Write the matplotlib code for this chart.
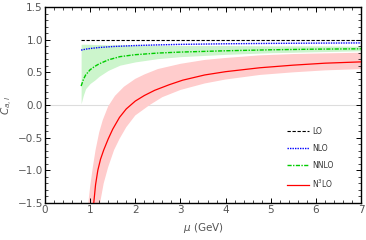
import numpy as np
import matplotlib
matplotlib.use('Agg')
import matplotlib.pyplot as plt
from matplotlib.ticker import MultipleLocator

# values
mu_lo = [0.8, 7.0]
c_lo = [1.0, 1.0]

mu_nlo = [0.8, 0.9, 1.0, 1.2, 1.5, 2.0, 2.5, 3.0, 4.0, 5.0, 6.0, 7.0]
c_nlo = [0.84, 0.855, 0.865, 0.88, 0.895, 0.91, 0.92, 0.928, 0.937, 0.943, 0.947, 0.95]

mu_nnlo = [0.8, 0.85, 0.9, 1.0, 1.1, 1.2, 1.4, 1.66, 2.0, 2.5, 3.0, 4.0, 5.0, 6.0, 7.0]
c_nnlo = [0.29, 0.39, 0.46, 0.54, 0.59, 0.63, 0.69, 0.74, 0.77, 0.795, 0.81, 0.83, 0.845, 0.855, 0.86]
c_nnlo_hi = [0.93, 0.93, 0.93, 0.93, 0.925, 0.925, 0.92, 0.92, 0.915, 0.915, 0.91, 0.91, 0.905, 0.905, 0.90]
c_nnlo_lo = [0.02, 0.15, 0.25, 0.33, 0.38, 0.44, 0.53, 0.61, 0.66, 0.71, 0.74, 0.775, 0.80, 0.815, 0.83]

mu_n3lo = [1.0, 1.08, 1.12, 1.17, 1.23, 1.3, 1.4, 1.5, 1.65, 1.8, 2.0, 2.2, 2.43, 2.75,
           3.05, 3.54, 4.0, 4.76, 5.5, 6.2, 7.0]
c_n3lo = [-2.4, -1.5, -1.22, -1.0, -0.83, -0.69, -0.52, -0.37, -0.19, -0.06, 0.06, 0.145,
          0.225, 0.31, 0.38, 0.46, 0.51, 0.57, 0.61, 0.64, 0.66]

mu_n3lo_hi = [0.9, 0.96, 1.0, 1.06, 1.12, 1.2, 1.28, 1.4, 1.55, 1.75, 2.0, 2.21, 2.5, 3.0,
              3.54, 4.0, 4.76, 5.5, 6.2, 7.0]
c_n3lo_hi = [-2.0, -1.5, -1.25, -0.95, -0.69, -0.42, -0.23, -0.02, 0.14, 0.28, 0.40, 0.47,
             0.55, 0.63, 0.69, 0.72, 0.76, 0.78, 0.79, 0.80]

mu_n3lo_lo = [1.15, 1.22, 1.3, 1.4, 1.53, 1.65, 1.8, 2.0, 2.32, 2.6, 3.0, 3.54, 4.0, 4.76,
              5.5, 6.2, 7.0]
c_n3lo_lo = [-1.8, -1.5, -1.2, -0.95, -0.69, -0.52, -0.34, -0.16, 0.0, 0.12, 0.23, 0.33,
             0.39, 0.46, 0.50, 0.53, 0.55]

tick_color = '#555555'

fig = plt.figure(figsize=(3.66, 2.40), dpi=100)
ax = fig.add_axes([45/366, 1-203/240, 316/366, 196/240])

ax.axhline(0, color='#dddddd', lw=0.8, zorder=0)

# red band: upper edge then lower edge reversed
ax.fill(mu_n3lo_hi + mu_n3lo_lo[::-1], c_n3lo_hi + c_n3lo_lo[::-1],
        color='#ffcccc', lw=0, zorder=1)
ax.fill_between(mu_nnlo, c_nnlo_lo, c_nnlo_hi, color='#ccf5cc', lw=0, zorder=1)

ax.plot(mu_lo, c_lo, color='black', ls=(0, (3, 1.5)), lw=0.8, label='LO', zorder=3)
ax.plot(mu_nlo, c_nlo, color='blue', ls=(0, (1, 0.8)), lw=1.0, label='NLO', zorder=3)
ax.plot(mu_nnlo, c_nnlo, color='#00cc00', ls=(0, (3, 1, 1, 1)), lw=1.0, label='NNLO', zorder=3)
ax.plot(mu_n3lo, c_n3lo, color='red', ls='-', lw=0.9, label=r'N$^3$LO', zorder=3)

ax.set_xlim(0, 7)
ax.set_ylim(-1.5, 1.5)

ax.xaxis.set_major_locator(MultipleLocator(1))
ax.xaxis.set_minor_locator(MultipleLocator(0.2))
ax.yaxis.set_major_locator(MultipleLocator(0.5))
ax.yaxis.set_minor_locator(MultipleLocator(0.1))
ax.yaxis.set_major_formatter(lambda v, p: '{:.1f}'.format(v).replace('-', '\u2212'))

ax.tick_params(which='both', direction='in', top=True, right=True,
               labelcolor=tick_color, labelsize=7.5, pad=1.5)
ax.tick_params(which='major', length=3.5, width=0.7)
ax.tick_params(which='minor', length=2, width=0.5)
for s in ax.spines.values():
    s.set_linewidth(1.0)

ax.set_xlabel(r'$\mu$ (GeV)', color=tick_color, fontsize=7.5, labelpad=4)
ax.set_ylabel(r'$C_{a,l}$', color=tick_color, fontsize=7.5, labelpad=2)

leg = ax.legend(loc='upper left', bbox_to_anchor=(0.755, 0.405), frameon=False,
                fontsize=5.5, handlelength=2.9, labelspacing=1.05, handletextpad=0.4,
                borderaxespad=0)
for t in leg.get_texts():
    t.set_color('#333333')

fig.savefig('out.png', dpi=100)
